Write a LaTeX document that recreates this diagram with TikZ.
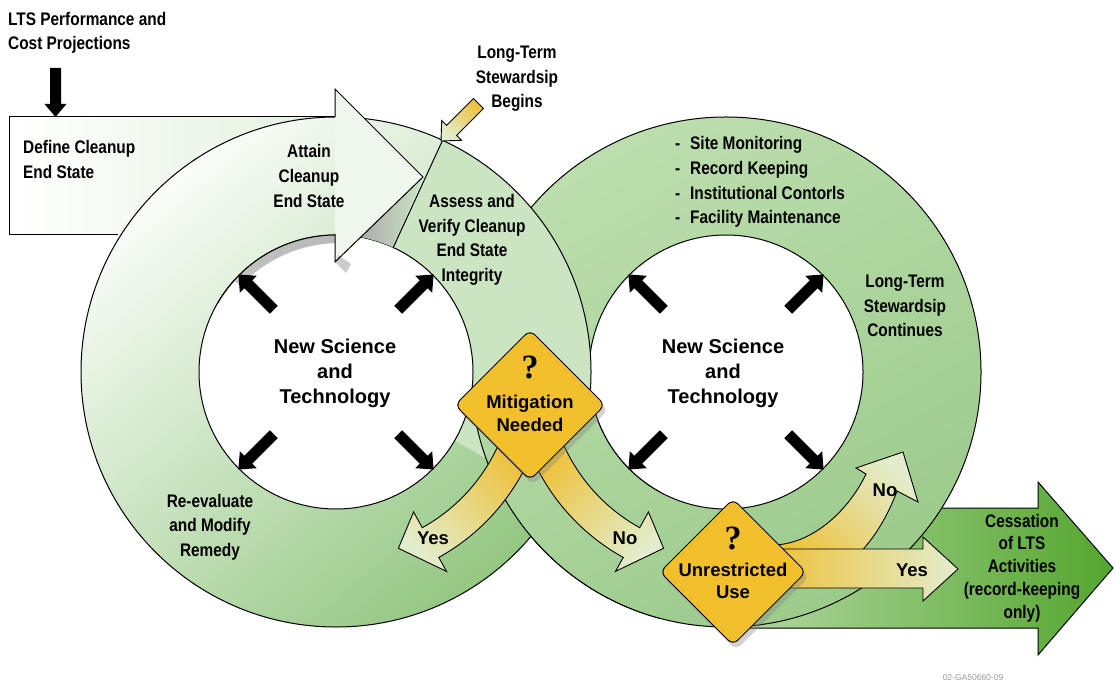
\documentclass[tikz,border=0pt]{standalone}
\usepackage{fontspec}
\setmainfont{Liberation Sans}
\newfontfamily\cnd[FakeStretch=0.846]{Liberation Sans}
\newfontfamily\qfont{Liberation Serif}
\usetikzlibrary{calc,shadows}
\definecolor{rlight}{RGB}{188,222,174}
\definecolor{rdark}{RGB}{156,203,139}
\definecolor{lwhite}{RGB}{250,253,249}
\definecolor{lgreen}{RGB}{148,199,130}
\definecolor{assess}{RGB}{203,228,193}
\definecolor{dia}{RGB}{243,192,45}
\definecolor{ylw}{RGB}{238,193,58}
\definecolor{pale}{RGB}{226,237,205}
\definecolor{cesl}{RGB}{175,214,158}
\definecolor{cesd}{RGB}{84,166,46}
\definecolor{rectr}{RGB}{226,241,220}
\definecolor{headc}{RGB}{240,247,236}
\begin{document}
\begin{tikzpicture}[x=1pt,y=1pt,
 outl/.style={draw=black,line width=1pt},
 ctext/.style={font=\cnd\bfseries\fontsize{18.2}{24.6}\selectfont,align=center,inner sep=0pt},
 rtext/.style={font=\bfseries\fontsize{18.5}{23}\selectfont,align=center,inner sep=0pt},
 ntext/.style={font=\bfseries\fontsize{20}{25}\selectfont,align=center,inner sep=0pt},
 qtext/.style={font=\qfont\bfseries\fontsize{34}{34}\selectfont,inner sep=0pt},
 ringR/.style={even odd rule, shade, top color=rlight, bottom color=rdark, shading angle=30, draw=black, line width=1pt},
 ringL/.style={even odd rule, shade, top color=lwhite, bottom color=lgreen, shading angle=40},
 yarrow/.style={shade, draw=black, line width=0.9pt},
 decbox/.style={draw=black, fill=dia, line width=1pt, rounded corners=7pt, drop shadow={opacity=0.35,shadow xshift=3pt,shadow yshift=-5pt}},
]
\useasboundingbox (0,0) rectangle (1115,683);
\fill[white] (0,0) rectangle (1115,683);
\coordinate (L) at (336,311);
\coordinate (R) at (726,311);

% Cessation arrow (bottom layer)
\path[shade, left color=cesl, right color=cesd, outl] (770,175) -- (1038,175) -- (1038,201) -- (1113,115) -- (1038,28) -- (1038,55) -- (748,55) -- cycle;

% right ring
\path[ringR] (R) circle[radius=255] (R) circle[radius=137];

% Define rectangle
\path[shade, left color=white, right color=rectr] (9,448) rectangle (335,566);
\draw[outl] (335,566) -- (9,566) -- (9,448) -- (118,448);

% left ring
\path[ringL] (L) circle[radius=255] (L) circle[radius=137];
\fill[white] (L) circle[radius=137];
\fill[assess] ($(L)+(65.3:255)$) arc[start angle=65.3, end angle=-30, radius=255] -- ($(L)+(-30:137)$) arc[start angle=-30, end angle=65.3, radius=137] -- cycle;
\draw[outl] (L) circle[radius=255];
\draw[outl] (L) circle[radius=137];
\draw[outl] (9,566) -- (335,566);

% shadow of curved arrow inside white circle
\begin{scope}
 \clip (L) circle[radius=137];
 \clip (L) -- ($(L)+(84:220)$) -- ($(L)+(138:220)$) -- cycle;
 \path[even odd rule, shade, top color=gray!55, bottom color=white] (L) circle[radius=137] ($(L)+(4,-8)$) circle[radius=137];
\end{scope}
\draw[outl] ($(L)+(82:137)$) arc[start angle=82, end angle=150, radius=137];

% arrowhead of Attain
\fill[headc] (335,566) -- (335,594) -- (423,506) -- (335,421) -- (335,449) -- cycle;
\path[shade, left color=gray!65, right color=assess] (423,506) -- (360.6,445.8) arc[start angle=79.66, end angle=65.3, radius=137] -- cycle;
\fill[gray!40] (335,421) -- (346,410) -- (351,419) -- (338,428) -- cycle;
\draw[outl] (335,566) -- (335,594) -- (423,506) -- (335,421) -- (335,449);
\draw[outl] ($(L)+(65.3:255)$) -- ($(L)+(65.3:137)$);

% right ring redrawn on top at the lower crossing
\begin{scope}
 \clip (400,0) rectangle (660,278);
 \path[ringR] (R) circle[radius=255] (R) circle[radius=137];
\end{scope}

% black arrows in white circles
\foreach \c in {L,R}{
 \foreach \a in {45,135,225,315}{
  \begin{scope}[shift={(\c)}, rotate=\a]
   \fill[black] (88,-5.5) -- (124,-5.5) -- (124,-12) -- (138,0) -- (124,12) -- (124,5.5) -- (88,5.5) -- cycle;
  \end{scope}
 }
}

% LTS input arrow
\fill[black] (50,615) -- (61,615) -- (61,579) -- (66.5,579) -- (55.5,566) -- (44.5,579) -- (50,579) -- cycle;

% Long-term stewardship begins arrow
\path[yarrow, top color=ylw, bottom color=pale, shading angle=-45] (483.45,574.55) -- (456.55,547.65) -- (461.5,542.7) -- (441,542) -- (441.7,562.5) -- (446.65,557.55) -- (473.55,584.45) -- cycle;

% Unrestricted arrows
\path[yarrow, top color=pale, bottom color=ylw, shading angle=-45] (775,138) .. controls (815,140) and (850,175) .. (866,209) -- (856,215) -- (903,231) -- (918,181) -- (897,192) .. controls (885,160) and (870,140) .. (855,125) -- (790,110) -- cycle;
\path[yarrow, left color=ylw, right color=pale] (770,134) -- (923,134) -- (923,146) -- (958,114) -- (923,82) -- (923,95) -- (770,95) -- cycle;

% Mitigation arrows
\path[yarrow, top color=ylw, bottom color=pale, shading angle=-45] ($(L)+(-22:212)$) arc[start angle=-22, end angle=-61, radius=212] -- ($(L)+(-61:228)$) -- ($(L)+(-70.5:187)$) -- ($(L)+(-61:160)$) -- ($(L)+(-61:178)$) arc[start angle=-61, end angle=-22, radius=178] -- cycle;
\path[yarrow, top color=ylw, bottom color=pale, shading angle=45] ($(R)+(202:212)$) arc[start angle=202, end angle=241, radius=212] -- ($(R)+(241:228)$) -- ($(R)+(250.5:187)$) -- ($(R)+(241:160)$) -- ($(R)+(241:178)$) arc[start angle=241, end angle=202, radius=178] -- cycle;

% decision diamonds
\path[decbox] (455,278) -- (530,353) -- (605,278) -- (530,203) -- cycle;
\path[decbox] (660,111) -- (733,184) -- (806,111) -- (733,38) -- cycle;

% texts
\node[ctext, anchor=west, align=left] (lts) at (8,650) {LTS Performance and\\Cost Projections};
\node[ctext, anchor=west, align=left] (define) at (23,523.5) {Define Cleanup\\End State};
\node[ctext] (attain) at (309,507) {Attain\\Cleanup\\End State};
\node[ctext] (begins) at (517,604) {Long-Term\\Stewardsip\\Begins};
\node[ctext] (assesst) at (472,443) {Assess and\\Verify Cleanup\\End State\\Integrity};
\node[ctext, anchor=west, align=left] (list) at (675,501) {\makebox[15pt][l]{-}Site Monitoring\\\makebox[15pt][l]{-}Record Keeping\\\makebox[15pt][l]{-}Institutional Contorls\\\makebox[15pt][l]{-}Facility Maintenance};
\node[ctext] (continues) at (905,377) {Long-Term\\Stewardsip\\Continues};
\node[ntext] (nstl) at (335,310) {New Science\\and\\Technology};
\node[ntext] (nstr) at (723,310) {New Science\\and\\Technology};
\node[ctext] (reeval) at (210,156) {Re-evaluate\\and Modify\\Remedy};
\node[qtext] (q1) at (530,316) {?};
\node[rtext] (mitig) at (530,269.5) {Mitigation\\Needed};
\node[qtext] (q2) at (733,145) {?};
\node[rtext, font=\bfseries\fontsize{18.5}{22}\selectfont] (unres) at (733,102) {Unrestricted\\Use};
\node[rtext] (yes1) at (433,145) {Yes};
\node[rtext] (no1) at (625,145) {No};
\node[rtext] (no2) at (885,193) {No};
\node[rtext] (yes2) at (912,113) {Yes};
\node[ctext, font=\cnd\bfseries\fontsize{18.2}{22.8}\selectfont] (cess) at (1022,115) {Cessation\\of LTS\\Activities\\(record-keeping\\only)};
\node[font=\fontsize{8.5}{9}\selectfont, text=gray!80, inner sep=0pt] (code) at (973,5) {02-GA50660-09};
\end{tikzpicture}
\end{document}
